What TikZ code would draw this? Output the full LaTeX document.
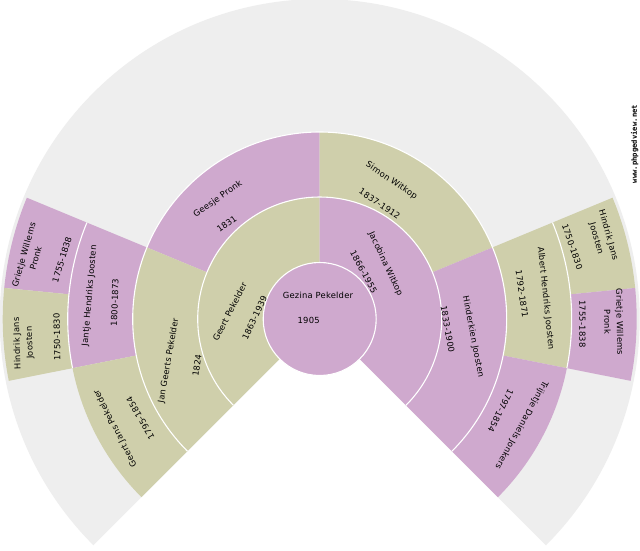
\documentclass[tikz,border=0pt]{standalone}
\usepackage{fontspec}
\setmainfont[LetterSpace=2.5]{DejaVu Sans}
\newfontfamily\markfont{DejaVu Sans Mono}
\usepackage{tikz}
\definecolor{mauve}{HTML}{CFA9CE}
\definecolor{olive}{HTML}{CFCFAB}
\definecolor{fan}{HTML}{EEEEEE}
\tikzset{
  person/.style={font=\fontsize{8.4}{12.5}\selectfont, text=black, inner sep=0pt, align=center},
  rim/.style={white, line width=1.1pt}
}
% one piece of a ring: colour, from angle, to angle, inner radius, outer radius
\newcommand{\ringpart}[5]{\fill[#1] (#2:#4) arc (#2:#3:#4) -- (#3:#5) arc (#3:#2:#5) -- cycle;}

\begin{document}
\begin{tikzpicture}[x=1pt,y=1pt]
    \useasboundingbox[fill=white] (-319.7,-231) rectangle (320.3,319);

    % backdrop
    \fill[fan] (0,0) -- (-45:320) arc (-45:225:320) -- cycle;

    % first ring
    \ringpart{olive}{90}{225}{56.5}{122}
    \ringpart{mauve}{-45}{90}{56.5}{122}

    % second ring
    \ringpart{mauve}{90}{157.5}{122}{187}
    \ringpart{olive}{157.5}{225}{122}{187}
    \ringpart{olive}{22.5}{90}{122}{187}
    \ringpart{mauve}{-45}{22.5}{122}{187}

    % third ring
    \ringpart{mauve}{157.5}{191.25}{187}{252}
    \ringpart{olive}{191.25}{225}{187}{252}
    \ringpart{olive}{-11.25}{22.5}{187}{252}
    \ringpart{mauve}{-45}{-11.25}{187}{252}

    % fourth ring
    \ringpart{mauve}{157.5}{174.375}{252}{317}
    \ringpart{olive}{174.375}{191.25}{252}{317}
    \ringpart{olive}{5.625}{22.5}{252}{317}
    \ringpart{mauve}{-11.25}{5.625}{252}{317}

    % white rims
    \draw[rim] (-45:122) arc (-45:225:122);
    \draw[rim] (-45:187) arc (-45:225:187);
    \draw[rim] (157.5:252) arc (157.5:191.25:252);
    \draw[rim] (-11.25:252) arc (-11.25:22.5:252);
    \fill[mauve] (0,0) circle (56.5);
    \draw[rim] (0,0) circle (56.5);

    % centre
    \node[person] (gezina) at (-1.7,23.3) {Gezina Pekelder};
    \node[person] (gezinadate) at (-11,-1.7) {1905};

    % parents
    \node[person,rotate=63] (geert) at (-90,7.3) {Geert Pekelder};
    \node[person,rotate=65] (geertdate) at (-65,1) {1863-1939};
    \node[person,rotate=-65] (jacobina) at (65.7,55) {Jacobina Witkop};
    \node[person,rotate=-62] (jacobinadate) at (44,47) {1866-1955};

    % grandparents
    \node[person,rotate=35] (geesje) at (-101.7,119.7) {Geesje Pronk};
    \node[person,rotate=36] (geesjedate) at (-93,95) {1831};
    \node[person,rotate=-34] (simon) at (71.7,138.3) {Simon Witkop};
    \node[person,rotate=-34] (simondate) at (60,115.3) {1837-1912};
    \node[person,rotate=-79] (hinderkien) at (153.3,-17.7) {Hinderkien Joosten};
    \node[person,rotate=-80] (hinderkiendate) at (128,-10.3) {1833-1900};
    \node[person,rotate=80] (jan) at (-151,-41.7) {Jan Geerts Pekelder};
    \node[person,rotate=82] (jandate) at (-122.7,-46.3) {1824};

    % third generation
    \node[person,rotate=85] (jantje) at (-230,23.3) {Jantje Hendriks Joosten};
    \node[person,rotate=88] (jantjedate) at (-205,16.7) {1800-1873};
    \node[person,rotate=117] (geertjans) at (-204.3,-109.3) {Geert Jans Pekelder};
    \node[person,rotate=120] (geertjansdate) at (-179.3,-99.3) {1795-1854};
    \node[person,rotate=-84] (albert) at (226,20.7) {Albert Hendriks Joosten};
    \node[person,rotate=-82] (albertdate) at (202.3,25) {1792-1871};
    \node[person,rotate=-119] (trijntje) at (201.7,-106) {Trijntje Daniels Jonkers};
    \node[person,rotate=-116] (trijntjedate) at (181,-91.7) {1797-1854};

    % fourth generation
    \node[person,rotate=74] (grietjeleft) at (-290,62.5) {Grietje Willems\\Pronk};
    \node[person,rotate=73] (grietjeleftdate) at (-257.7,59.3) {1755-1838};
    \node[person,rotate=92] (hindrikleft) at (-296,-24) {Hindrik Jans\\Joosten};
    \node[person,rotate=91] (hindrikleftdate) at (-262.7,-18.3) {1750-1830};
    \node[person,rotate=-74] (hindrikright) at (282.5,82) {Hindrik Jans\\Joosten};
    \node[person,rotate=-71] (hindrikrightdate) at (252.7,72.3) {1750-1830};
    \node[person,rotate=-89] (grietjeright) at (294,-3) {Grietje Willems\\Pronk};
    \node[person,rotate=-90] (grietjerightdate) at (262.7,-5) {1755-1838};

    % site mark
    \node[font=\markfont\bfseries\fontsize{7.2}{8}\selectfont,inner sep=0pt,rotate=90] (sitemark) at (315,175) {www.phpgedview.net};
\end{tikzpicture}
\end{document}
